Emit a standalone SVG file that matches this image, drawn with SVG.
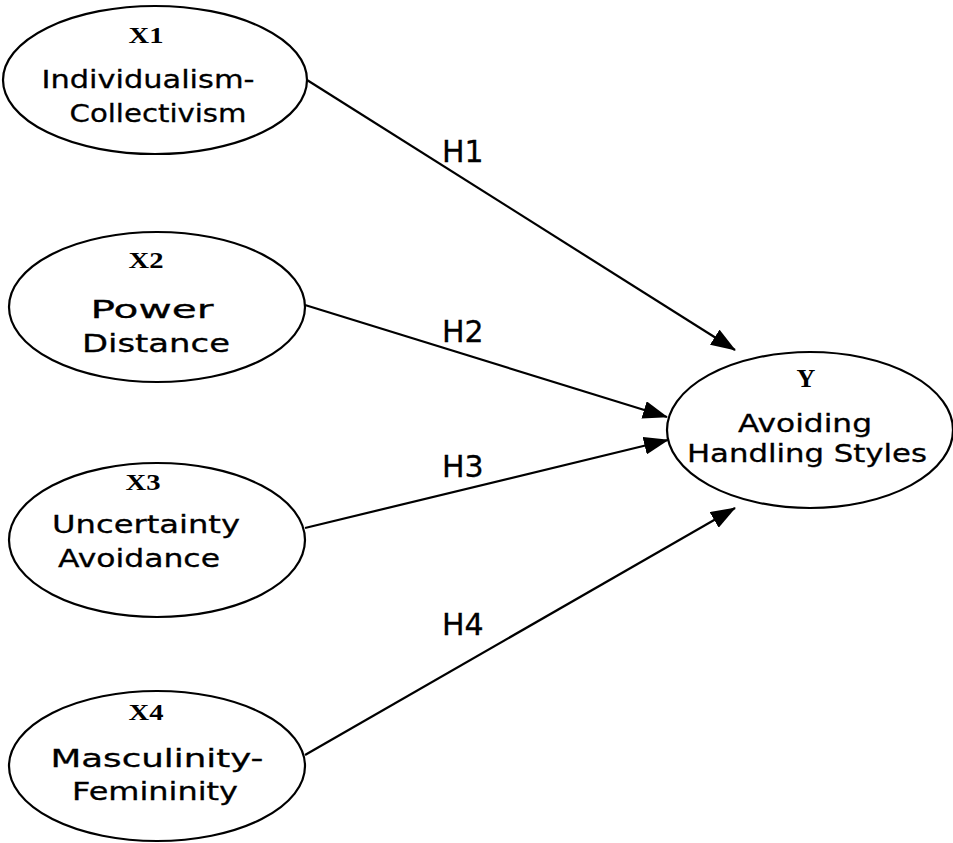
<svg xmlns="http://www.w3.org/2000/svg" width="953" height="843" viewBox="0 0 953 843">
<style>
.node ellipse{fill:#fff;stroke:#000;stroke-width:2.2}
.lab{font-family:"Liberation Serif",serif;font-weight:bold;font-size:23px;text-anchor:middle;fill:#000}
.txt{font-family:"DejaVu Sans",sans-serif;font-size:25px;text-anchor:middle;fill:#000;stroke:#000;stroke-width:0.3}
.h{font-family:"DejaVu Sans",sans-serif;font-size:30px;fill:#000;stroke:#000;stroke-width:0.3}
.edges line{stroke:#000;stroke-width:2.2;fill:none}
</style>
<defs>
<marker id="ah" markerWidth="25" markerHeight="18" refX="24" refY="9" orient="auto" markerUnits="userSpaceOnUse">
<path d="M0,0 L25,9 L0,18 z" fill="#000"/>
</marker>
</defs>
<rect width="953" height="843" fill="#fff"/>
<g class="edges">
<line x1="307" y1="80" x2="735" y2="350" marker-end="url(#ah)"/>
<line x1="305" y1="305" x2="667" y2="417" marker-end="url(#ah)"/>
<line x1="305" y1="528" x2="668" y2="440" marker-end="url(#ah)"/>
<line x1="305" y1="755" x2="735" y2="508" marker-end="url(#ah)"/>
<text class="h" x="442" y="162">H1</text>
<text class="h" x="442" y="342">H2</text>
<text class="h" x="442" y="477">H3</text>
<text class="h" x="442" y="635">H4</text>
</g>
<g id="x1" class="node">
<ellipse cx="155" cy="80" rx="152" ry="74"/>
<text class="lab" x="146" y="43" textLength="35" lengthAdjust="spacingAndGlyphs">X1</text>
<text class="txt" x="148" y="88" textLength="213" lengthAdjust="spacingAndGlyphs">Individualism-</text>
<text class="txt" x="158" y="122" textLength="177" lengthAdjust="spacingAndGlyphs">Collectivism</text>
</g>
<g id="x2" class="node">
<ellipse cx="157" cy="307" rx="148" ry="75"/>
<text class="lab" x="146" y="268" textLength="35" lengthAdjust="spacingAndGlyphs">X2</text>
<text class="txt" x="152" y="318" textLength="123" lengthAdjust="spacingAndGlyphs">Power</text>
<text class="txt" x="156" y="352" textLength="148" lengthAdjust="spacingAndGlyphs">Distance</text>
</g>
<g id="x3" class="node">
<ellipse cx="157" cy="540" rx="148" ry="77"/>
<text class="lab" x="143" y="490" textLength="35" lengthAdjust="spacingAndGlyphs">X3</text>
<text class="txt" x="146" y="533" textLength="188" lengthAdjust="spacingAndGlyphs">Uncertainty</text>
<text class="txt" x="139" y="567" textLength="162" lengthAdjust="spacingAndGlyphs">Avoidance</text>
</g>
<g id="x4" class="node">
<ellipse cx="157" cy="766" rx="148" ry="75"/>
<text class="lab" x="146" y="720" textLength="35" lengthAdjust="spacingAndGlyphs">X4</text>
<text class="txt" x="157" y="767" textLength="213" lengthAdjust="spacingAndGlyphs">Masculinity-</text>
<text class="txt" x="155" y="800" textLength="166" lengthAdjust="spacingAndGlyphs">Femininity</text>
</g>
<g id="y" class="node">
<ellipse cx="810" cy="430" rx="143" ry="78"/>
<text class="lab" x="806" y="387" style="font-size:26px">Y</text>
<text class="txt" x="805" y="432" textLength="134" lengthAdjust="spacingAndGlyphs">Avoiding</text>
<text class="txt" x="807" y="462" textLength="240" lengthAdjust="spacingAndGlyphs">Handling Styles</text>
</g>
</svg>
